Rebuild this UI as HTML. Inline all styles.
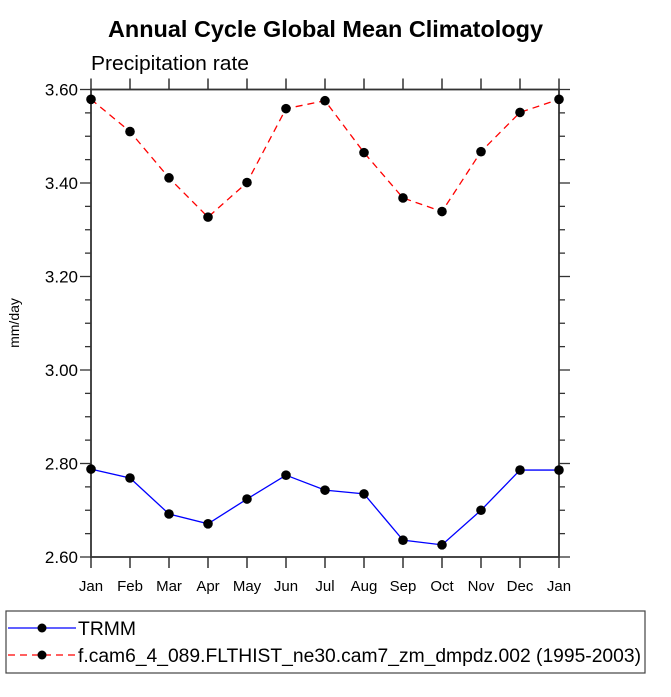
<!DOCTYPE html>
<html><head><meta charset="utf-8"><style>
body{margin:0;background:#fff;}
svg text{font-family:"Liberation Sans",Arial,sans-serif;}
</style></head><body>
<svg id="chart" width="671" height="692" xmlns="http://www.w3.org/2000/svg">
<text x="108" y="37" textLength="435" lengthAdjust="spacingAndGlyphs" font-size="23" font-weight="bold">Annual Cycle Global Mean Climatology</text>
<text x="91" y="70" textLength="158" lengthAdjust="spacingAndGlyphs" font-size="20">Precipitation rate</text>
<text transform="translate(19,323) rotate(-90)" text-anchor="middle" font-size="14">mm/day</text>
<g id="axes"></g>
<g id="series"></g>
<g>
<rect x="6" y="611" width="639" height="62" fill="none" stroke="#444" stroke-width="1.2"/>
<g>
<line x1="8" y1="628" x2="76" y2="628" stroke="#0000ff" stroke-width="1.3"/>
<circle cx="42" cy="628" r="4.5" fill="#000"/>
<text x="78" y="635" textLength="58" lengthAdjust="spacingAndGlyphs" font-size="19">TRMM</text></g>
<g>
<line x1="8" y1="655" x2="76" y2="655" stroke="#ff0000" stroke-width="1.3" stroke-dasharray="7,5"/>
<circle cx="42" cy="655" r="4.5" fill="#000"/>
<text x="78" y="662" textLength="563" lengthAdjust="spacingAndGlyphs" font-size="19">f.cam6_4_089.FLTHIST_ne30.cam7_zm_dmpdz.002 (1995-2003)</text></g>
</g>
</svg>
<script>
const months=["Jan","Feb","Mar","Apr","May","Jun","Jul","Aug","Sep","Oct","Nov","Dec","Jan"];
const trmm=[2.788,2.769,2.692,2.671,2.724,2.775,2.743,2.735,2.636,2.626,2.700,2.786,2.786];
const model=[3.579,3.510,3.411,3.327,3.401,3.559,3.576,3.465,3.368,3.339,3.467,3.551,3.579];
const yTicks=[2.6,2.8,3.0,3.2,3.4,3.6];
const yTickLabels=["2.60","2.80","3.00","3.20","3.40","3.60"];
const L=91,R=559,T=89.5,B=557,ymin=2.6,ymax=3.6;
const ns="http://www.w3.org/2000/svg";
function xs(i){return L+(R-L)*i/(months.length-1);}
function ys(v){return B-(v-ymin)/(ymax-ymin)*(B-T);}
function mk(tag,a,p){const e=document.createElementNS(ns,tag);for(const k in a)e.setAttribute(k,a[k]);p.appendChild(e);return e;}
const ax=document.getElementById('axes');
const frame=mk('rect',{x:L,y:T,width:R-L,height:B-T,fill:'none',stroke:'#333','stroke-width':1.8},ax);


months.forEach((m,i)=>{const x=xs(i);
mk('line',{x1:x,y1:B,x2:x,y2:B+11,stroke:'#333','stroke-width':1.5},ax);
mk('line',{x1:x,y1:T,x2:x,y2:T-11,stroke:'#333','stroke-width':1.5},ax);
const t=mk('text',{x:x,y:B+34,'text-anchor':'middle','font-size':15},ax);t.textContent=m;

});
for(let v=ymin;v<=ymax+1e-9;v+=0.05){const y=ys(v);const maj=Math.abs(Math.round(v*5)-v*5)<1e-6;const len=maj?11:6;
mk('line',{x1:L,y1:y,x2:L-len,y2:y,stroke:'#333','stroke-width':1.3},ax);
mk('line',{x1:R,y1:y,x2:R+len,y2:y,stroke:'#333','stroke-width':1.3},ax);}
yTicks.forEach((v,i)=>{const t=mk('text',{x:L-13,y:ys(v)+6,'text-anchor':'end','font-size':17},ax);t.textContent=yTickLabels[i];

});
const sg=document.getElementById('series');
function draw(vals,color,dash,name){const g=mk('g',{},sg);


mk('polyline',{points:vals.map((v,i)=>xs(i)+','+ys(v)).join(' '),fill:'none',stroke:color,'stroke-width':1.3,'stroke-dasharray':dash},g);
vals.forEach((v,i)=>{const c=mk('circle',{cx:xs(i),cy:ys(v),r:4.8,fill:'#000'},g);

});}
draw(trmm,'#0000ff','none','trmm-series');
draw(model,'#ff0000','7,5','model-series');
</script>
</body></html>
